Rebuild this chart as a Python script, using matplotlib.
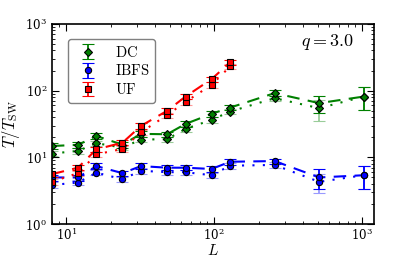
import numpy as np
import matplotlib
matplotlib.use("Agg")
import matplotlib.pyplot as plt

plt.rcParams['mathtext.fontset'] = 'cm'
plt.rcParams['font.family'] = 'serif'
plt.rcParams['font.serif'] = ['DejaVu Serif']

L = [8, 12, 16, 24, 32, 48, 64, 96, 128, 256, 512, 1024]
L_uf = [8, 12, 16, 24, 32, 48, 64, 96, 128]

# two runs per method (dashed / dotted)
dc_a = [14.8, 15.4, 20.9, 15.5, 22.5, 22.2, 31.7, 44.9, 55.7, 91.7, 65.0, 81.5]
dc_b = [11.4, 12.5, 16.3, 14.0, 18.5, 18.7, 26.7, 36.5, 48.5, 77.1, 54.6, 81.5]
dc_err_a = [1.5, 1.5, 2.0, 1.5, 2.0, 2.0, 3.0, 4.0, 5.0, 9.0, 18.0, 30.0]
dc_err_b = [1.0, 1.2, 1.5, 1.3, 1.7, 1.7, 2.5, 3.5, 4.5, 7.0, 19.0, 30.0]

ibfs_a = [5.0, 5.0, 7.4, 5.8, 7.4, 7.0, 7.0, 6.7, 8.6, 8.8, 5.0, 5.4]
ibfs_b = [3.85, 4.2, 5.9, 4.7, 6.3, 6.0, 6.0, 5.4, 7.5, 7.7, 4.3, 5.4]
ibfs_err_a = [0.5, 0.5, 0.7, 0.5, 0.7, 0.6, 0.6, 0.6, 0.8, 0.8, 1.6, 2.0]
ibfs_err_b = [0.4, 0.4, 0.5, 0.4, 0.6, 0.5, 0.5, 0.5, 0.7, 0.7, 1.4, 2.0]

uf_a = [5.6, 7.0, 13.2, 16.6, 29.6, 49.8, 81.5, 149, 264]
uf_b = [4.3, 5.8, 11.1, 13.4, 23.8, 42.9, 67.9, 122, 230]
uf_err_a = [0.5, 0.6, 1.2, 1.5, 2.7, 4.5, 7.0, 13, 24]
uf_err_b = [0.4, 0.5, 1.0, 1.2, 2.1, 3.8, 6.0, 11, 20]

fig = plt.figure(figsize=(4.15, 2.57), dpi=100)
ax = fig.add_axes([0.125, 0.128, 0.776, 0.779])

series = [
    ("DC", L, dc_a, dc_b, dc_err_a, dc_err_b, (0, 0.5, 0), "D"),
    ("IBFS", L, ibfs_a, ibfs_b, ibfs_err_a, ibfs_err_b, (0, 0, 1), "o"),
    ("UF", L_uf, uf_a, uf_b, uf_err_a, uf_err_b, (1, 0, 0), "s"),
]

for name, xs, ya, yb, ea, eb, col, mk in series:
    ax.plot(xs, ya, ls=(0, (6, 4)), color=col, lw=1.5)
    ax.plot(xs, yb, ls=(0, (1, 4)), color=col, lw=1.5)
    cont = ax.errorbar(xs, yb, yerr=eb, fmt=mk, color=col, ecolor=col,
                       mfc=col, mec='k', ms=4.5, capsize=4, elinewidth=1.3, mew=0.8)
    for art in list(cont[1]) + list(cont[2]):
        art.set_alpha(0.4)
    ax.errorbar(xs, ya, yerr=ea, fmt=mk, color=col, ecolor=col,
                mfc=col, mec='k', ms=4.5, capsize=4, elinewidth=1.3, mew=0.8,
                label=r'$\mathrm{%s}$' % name)

ax.set_xscale('log')
ax.set_yscale('log')
ax.set_xlim(8, 1200)
ax.set_ylim(1, 1000)
ax.tick_params(which='both', direction='in', top=True, right=True, labelsize=8.5)
ax.tick_params(which='major', length=5)
ax.tick_params(which='minor', length=2.5)
ax.tick_params(axis='x', pad=2)
for s in ax.spines.values():
    s.set_linewidth(1.2)

ax.set_xlabel(r'$L$', fontsize=11, labelpad=0)
ax.set_ylabel(r'$T/T_{\mathrm{SW}}$', fontsize=12, labelpad=2)
ax.text(0.938, 0.91, r'$q = 3.0$', transform=ax.transAxes, ha='right',
        va='center', fontsize=13)

leg = ax.legend(loc='upper left', bbox_to_anchor=(0.05, 0.925), borderaxespad=0,
                fontsize=10.5, handlelength=2.0, labelspacing=0.25,
                fancybox=True, framealpha=1)
leg.get_frame().set_edgecolor('0.5')

fig.savefig("out.png", dpi=100)
